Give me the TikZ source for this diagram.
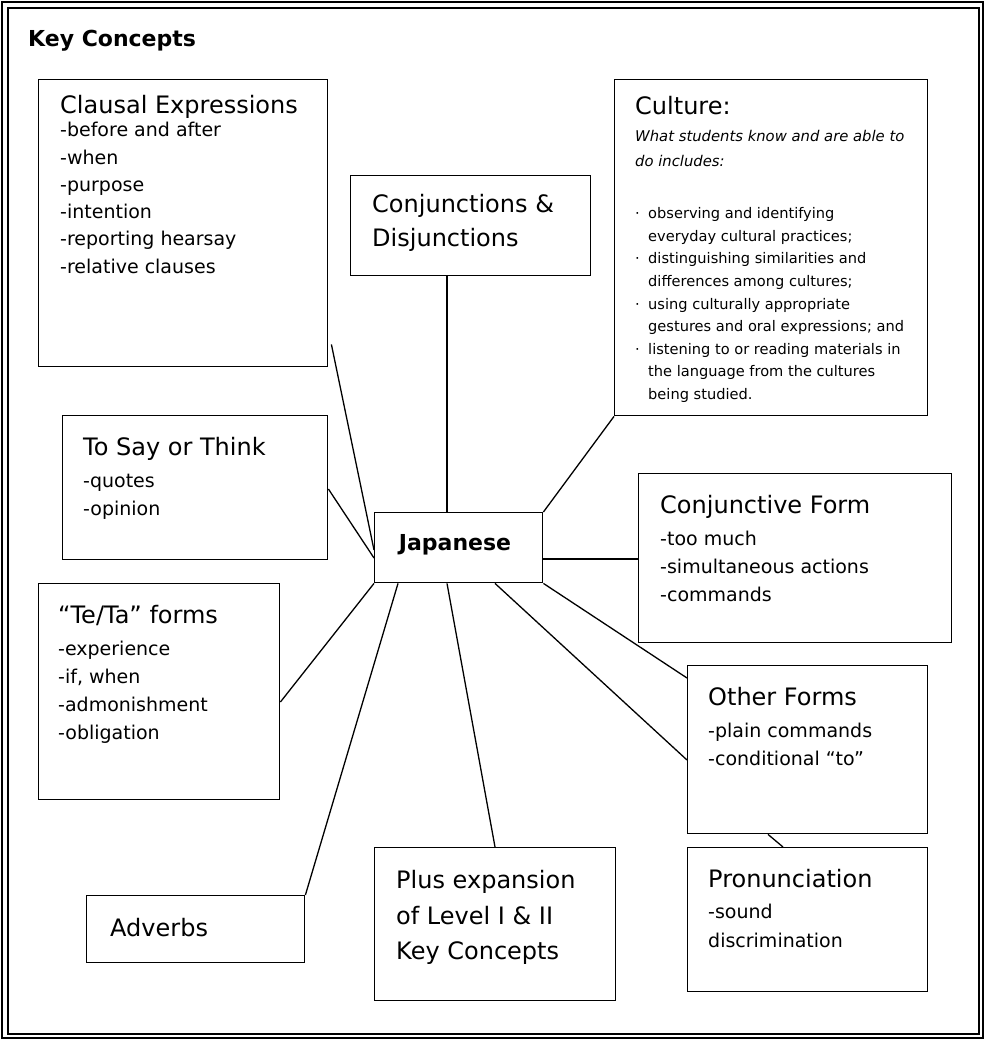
\documentclass[tikz,border=0pt]{standalone}
\usepackage{fontspec}
\setmainfont{DejaVu Sans}
\usetikzlibrary{calc}
\tikzset{
  box/.style={draw, line width=1.4pt, inner sep=0pt, anchor=north west},
  ttl/.style={anchor=base west, inner sep=0pt, font=\fontsize{24}{28}\selectfont},
  itm/.style={anchor=base west, inner sep=0pt, font=\fontsize{19}{23}\selectfont},
  sml/.style={anchor=base west, inner sep=0pt, font=\fontsize{14.6}{17}\selectfont},
  ital/.style={anchor=base west, inner sep=0pt, font=\itshape\fontsize{14.8}{17}\selectfont},
  bld/.style={inner sep=0pt, font=\bfseries\fontsize{22}{26}\selectfont},
  conn/.style={line width=1.3pt},
}
\begin{document}
\begin{tikzpicture}[x=1pt,y=-1pt]
\useasboundingbox (0,0) rectangle (985,1040);
% frame
\draw[line width=2.5pt] (2,2) rectangle (983,1038);
\draw[line width=2pt] (8,8) rectangle (979,1034);
\node[bld, anchor=base west] (kc) at (28,47) {Key Concepts};

% boxes
\node[box, minimum width=289pt, minimum height=287pt] (cl) at (38,79) {};
\node[box, minimum width=240pt, minimum height=100pt] (conj) at (350,175) {};
\node[box, minimum width=313pt, minimum height=336pt] (cult) at (614,79) {};
\node[box, minimum width=265pt, minimum height=144pt] (say) at (62,415) {};
\node[box, minimum width=168pt, minimum height=70pt] (jap) at (374,512) {};
\node[box, minimum width=313pt, minimum height=169pt] (cform) at (638,473) {};
\node[box, minimum width=241pt, minimum height=216pt] (teta) at (38,583) {};
\node[box, minimum width=240pt, minimum height=168pt] (other) at (687,665) {};
\node[box, minimum width=240pt, minimum height=144pt] (pron) at (687,847) {};
\node[box, minimum width=218pt, minimum height=67pt] (adv) at (86,895) {};
\node[box, minimum width=241pt, minimum height=153pt] (plus) at (374,847) {};

% texts
\node[ttl] (clt) at (60,114) {Clausal Expressions};
\foreach \t [count=\i] in {-before and after, -when, -purpose, -intention, -reporting hearsay, -relative clauses}
  \node[itm] (cl\i) at (60,{137+27.2*(\i-1)}) {\t};

\node[ttl] (conjt1) at (372,213) {Conjunctions \&};
\node[ttl] (conjt2) at (372,247) {Disjunctions};

\node[ttl] (cultt) at (635,115) {Culture:};
\node[ital] (culti1) at (635,142) {What students know and are able to};
\node[ital] (culti2) at (635,167) {do includes:};
\foreach \t [count=\i] in {observing and identifying, everyday cultural practices;, distinguishing similarities and, differences among cultures;, using culturally appropriate, gestures and oral expressions; and, listening to or reading materials in, the language from the cultures, being studied.}
  \node[sml] (cultb\i) at (648,{219+22.5*(\i-1)}) {\t};
\foreach \i in {1,3,5,7}
  \node[sml] (dot\i) at (635,{219+22.5*(\i-1)}) {·};

\node[ttl] (sayt) at (83,455) {To Say or Think};
\node[itm] (say1) at (83,487) {-quotes};
\node[itm] (say2) at (83,515) {-opinion};

\node[bld, anchor=base] (japt) at (455,550) {Japanese};

\node[ttl] (cformt) at (660,513) {Conjunctive Form};
\node[itm] (cform1) at (660,545) {-too much};
\node[itm] (cform2) at (660,573) {-simultaneous actions};
\node[itm] (cform3) at (660,601) {-commands};

\node[ttl] (tetat) at (58,623) {“Te/Ta” forms};
\foreach \t [count=\i] in {-experience, {-if, when}, -admonishment, -obligation}
  \node[itm] (teta\i) at (58,{655+28*(\i-1)}) {\t};

\node[ttl] (othert) at (708,705) {Other Forms};
\node[itm] (other1) at (708,737) {-plain commands};
\node[itm] (other2) at (708,765) {-conditional “to”};

\node[ttl] (pront) at (708,887) {Pronunciation};
\node[itm] (pron1) at (708,918) {-sound};
\node[itm] (pron2) at (708,947) {discrimination};

\node[ttl] (advt) at (110,936) {Adverbs};

\node[ttl] (plus1) at (396,888) {Plus expansion};
\node[ttl] (plus2) at (396,924) {of Level I \& II};
\node[ttl] (plus3) at (396,959) {Key Concepts};

% connectors
\draw[conn] ($(conj.south west)+(97,0)$) -- ($(jap.north west)+(73,0)$);
\draw[conn] (cult.south west) -- (jap.north east);
\draw[conn] ($(cl.south east)+(3,-23)$) -- ($(jap.north west)+(0,38)$);
\draw[conn] ($(say.north east)+(0,74)$) -- ($(jap.north west)+(0,46)$);
\draw[conn] ($(teta.north east)+(0,119)$) -- (jap.south west);
\draw[conn] (adv.north east) -- ($(jap.south west)+(24,0)$);
\draw[conn] ($(jap.south west)+(73,0)$) -- ($(plus.north west)+(121,0)$);
\draw[conn] ($(jap.south west)+(121,0)$) -- ($(other.north west)+(0,95)$);
\draw[conn] (jap.south east) -- ($(other.north west)+(0,13)$);
\draw[conn] ($(jap.north east)+(0,47)$) -- ($(cform.north west)+(0,86)$);
\draw[conn] ($(other.south west)+(81,0)$) -- ($(pron.north west)+(96,0)$);
\end{tikzpicture}
\end{document}
